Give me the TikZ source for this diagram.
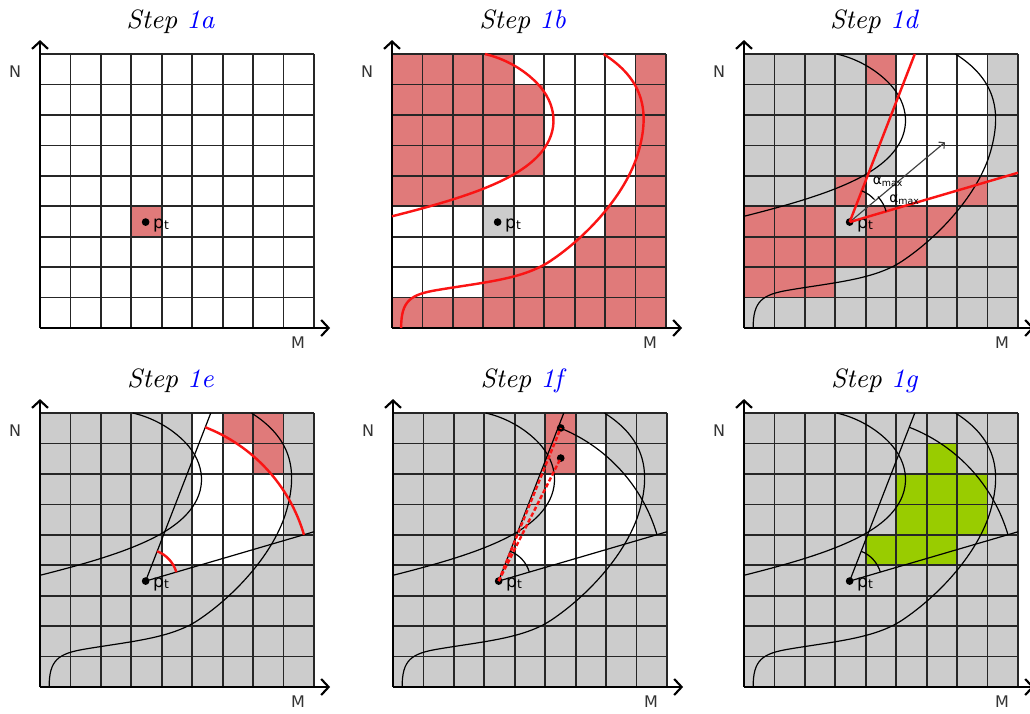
\documentclass[tikz,border=0pt]{standalone}
\usepackage{fontspec}
\usetikzlibrary{arrows.meta}
\newfontfamily\labfont{DejaVu Sans}
\definecolor{cellred}{RGB}{224,122,122}
\definecolor{cellgray}{RGB}{204,204,204}
\definecolor{cellgreen}{RGB}{153,204,0}
\definecolor{linered}{RGB}{250,20,20}
\definecolor{titleblue}{RGB}{0,0,255}
\tikzset{
  gridline/.style={line width=0.6pt, draw=black!85},
  axisline/.style={line width=0.75pt, draw=black, -{Straight Barb[width=5.6pt,length=2.6pt]}},
  thincurve/.style={line width=0.42pt, draw=black},
  redcurve/.style={line width=0.85pt, draw=linered},
  redline/.style={line width=0.85pt, draw=linered},
  blackline/.style={line width=0.42pt, draw=black},
  reddash/.style={line width=0.85pt, draw=linered, dash pattern=on 1.5pt off 0.8pt},
  ptdot/.style={circle, fill=black, inner sep=0pt, minimum size=2.7pt},
  ptlab/.style={anchor=base west, inner sep=0pt, font=\labfont\fontsize{6}{6}\selectfont},
  axlab/.style={inner sep=0pt, text=black!80, font=\labfont\fontsize{5.6}{6}\selectfont},
  alab/.style={inner sep=0pt, font=\labfont\fontsize{4.8}{5}\selectfont},
  steptitle/.style={inner sep=0pt, font=\fontsize{9.3}{11}\selectfont},
  dirarrow/.style={line width=0.4pt, draw=black!75, -{Straight Barb[width=3pt,length=1.4pt]}}
}
\newcommand\fillcells[2]{\foreach \cx/\cy in {#2}{\fill[#1] (\cx,\cy) rectangle ++(1,1);}}
\newcommand\curveA[1]{\draw[#1] (0,3.67) .. controls (2.5,4.3) and (4.3,4.9) .. (5.0,5.9) .. controls (5.5,6.6) and (5.4,7.5) .. (4.6,8.2) .. controls (4.1,8.65) and (3.5,8.9) .. (3.05,9);}
\newcommand\curveB[1]{\draw[#1] (0.3,0) .. controls (0.3,0.9) and (0.6,1.1) .. (1.5,1.25) .. controls (3,1.5) and (4.3,1.6) .. (5.2,2.2) .. controls (6.4,3.0) and (7.7,4.4) .. (8.1,5.8) .. controls (8.5,7.2) and (8.2,8.2) .. (6.95,9);}
\newcommand\panelbase[2]{%
  \foreach \k in {1,...,9} {\draw[gridline] (\k,0) -- (\k,9); \draw[gridline] (0,\k) -- (9,\k);}
  \coordinate (#1o) at (0,0);
  \coordinate (#1ny) at (0,9.46);
  \coordinate (#1mx) at (9.53,0);
  \draw[axisline] (#1o) -- (#1ny);
  \draw[axisline] (#1o) -- (#1mx);
  \node[axlab] (#1N) at (-0.82,8.41) {N};
  \node[axlab] (#1M) at (8.48,-0.49) {M};
  \node[steptitle] (#1title) at (4.29,10.06) {\textit{Step} \textcolor{titleblue}{\textit{1#2}}};
}
\newcommand\ptmark[1]{%
  \node[ptdot] (#1p) at (3.47,3.48) {};
  \node[ptlab] (#1plab) at (3.70,3.27) {p\raisebox{-0.3pt}{\fontsize{4.3}{4}\selectfont t}};
}
\newcommand\rays[1]{%
  \coordinate (#1top) at (5.61,9);
  \coordinate (#1rt) at (9,5.1);
}
\begin{document}
\begin{tikzpicture}
\useasboundingbox (0,0) rectangle (360.5pt,249.55pt);
% ---------- Step 1a
\begin{scope}[shift={(14pt,134.75pt)}, x=10.654pt, y=10.654pt]
  \fillcells{cellred}{3/3}
  \panelbase{a}{a}
  \ptmark{a}
\end{scope}
% ---------- Step 1b
\begin{scope}[shift={(137.2pt,134.75pt)}, x=10.654pt, y=10.654pt]
  \fillcells{cellred}{0/8,1/8,2/8,3/8,8/8,
    0/7,1/7,2/7,3/7,4/7,8/7, 0/6,1/6,2/6,3/6,4/6,8/6, 0/5,1/5,2/5,3/5,4/5,8/5,
    0/4,1/4,2/4,8/4, 7/3,8/3, 6/2,7/2,8/2,
    3/1,4/1,5/1,6/1,7/1,8/1,
    0/0,1/0,2/0,3/0,4/0,5/0,6/0,7/0,8/0}
  \fillcells{cellgray}{3/3}
  \panelbase{b}{b}
  \curveA{redcurve}
  \curveB{redcurve}
  \ptmark{b}
\end{scope}
% ---------- Step 1d
\begin{scope}[shift={(260.4pt,134.75pt)}, x=10.654pt, y=10.654pt]
  \fill[cellgray] (0,0) rectangle (9,9);
  \fillcells{white}{5/8,6/8,7/8,5/7,6/7,7/7,5/6,6/6,7/6,5/5,6/5,7/5,4/4,5/4,6/4}
  \fillcells{cellred}{4/8,3/4,7/4,0/3,1/3,2/3,4/3,5/3,6/3,0/2,1/2,2/2,3/2,4/2,5/2,0/1,1/1,2/1}
  \panelbase{d}{d}
  \curveA{thincurve}
  \curveB{thincurve}
  \ptmark{d}
  \rays{d}
  \coordinate (ddir) at (6.6,6.1);
  \draw[dirarrow] (dp.center) -- (ddir);
  \draw[redline] (dp.center) -- (dtop);
  \draw[redline] (dp.center) -- (drt);
  \draw[blackline] (dp.center) ++(68.8:1.1) arc[start angle=68.8, end angle=42, radius=1.1];
  \draw[blackline] (dp.center) ++(42:1.25) arc[start angle=42, end angle=16.3, radius=1.25];
  \node[alab] (da1) at (4.72,4.8) {α\raisebox{-0.7pt}{\fontsize{3.3}{3}\selectfont max}};
  \node[alab] (da2) at (5.26,4.22) {α\raisebox{-0.7pt}{\fontsize{3.3}{3}\selectfont max}};
\end{scope}
% ---------- Step 1e
\begin{scope}[shift={(14pt,9.1pt)}, x=10.654pt, y=10.654pt]
  \fill[cellgray] (0,0) rectangle (9,9);
  \fillcells{white}{5/8,5/7,6/7,5/6,6/6,7/6,5/5,6/5,7/5,4/4,5/4,6/4}
  \fillcells{cellred}{6/8,7/8,7/7}
  \panelbase{e}{e}
  \curveA{thincurve}
  \curveB{thincurve}
  \ptmark{e}
  \rays{e}
  \draw[blackline] (ep.center) -- (etop);
  \draw[blackline] (ep.center) -- (ert);
  \draw[redline] (ep.center) ++(68.8:1.05) arc[start angle=68.8, end angle=16.3, radius=1.05];
  \draw[redline] (ep.center) ++(68.8:5.42) arc[start angle=68.8, end angle=16.3, radius=5.42];
\end{scope}
% ---------- Step 1f
\begin{scope}[shift={(137.55pt,9.1pt)}, x=10.654pt, y=10.654pt]
  \fill[cellgray] (0,0) rectangle (9,9);
  \fillcells{white}{6/7,5/6,6/6,7/6,5/5,6/5,7/5,4/4,5/4,6/4}
  \fillcells{cellred}{5/8,5/7}
  \panelbase{f}{f}
  \curveA{thincurve}
  \curveB{thincurve}
  \ptmark{f}
  \rays{f}
  \draw[blackline] (fp.center) -- (ftop);
  \draw[blackline] (fp.center) -- (frt);
  \draw[blackline] (fp.center) ++(68.8:1.05) arc[start angle=68.8, end angle=16.3, radius=1.05];
  \draw[blackline] (fp.center) ++(68.8:5.42) arc[start angle=68.8, end angle=16.3, radius=5.42];
  \node[ptdot] (fq1) at (5.51,8.51) {};
  \node[ptdot] (fq2) at (5.51,7.52) {};
  \draw[reddash] (fp.center) -- (fq1.center);
  \draw[reddash] (fp.center) -- (fq2.center);
\end{scope}
% ---------- Step 1g
\begin{scope}[shift={(260.4pt,9.1pt)}, x=10.654pt, y=10.654pt]
  \fill[cellgray] (0,0) rectangle (9,9);
  \fillcells{cellgreen}{6/7,5/6,6/6,7/6,5/5,6/5,7/5,4/4,5/4,6/4}
  \panelbase{g}{g}
  \curveA{thincurve}
  \curveB{thincurve}
  \ptmark{g}
  \rays{g}
  \draw[blackline] (gp.center) -- (gtop);
  \draw[blackline] (gp.center) -- (grt);
  \draw[blackline] (gp.center) ++(68.8:1.05) arc[start angle=68.8, end angle=16.3, radius=1.05];
  \draw[blackline] (gp.center) ++(68.8:5.42) arc[start angle=68.8, end angle=16.3, radius=5.42];
\end{scope}
\end{tikzpicture}
\end{document}
